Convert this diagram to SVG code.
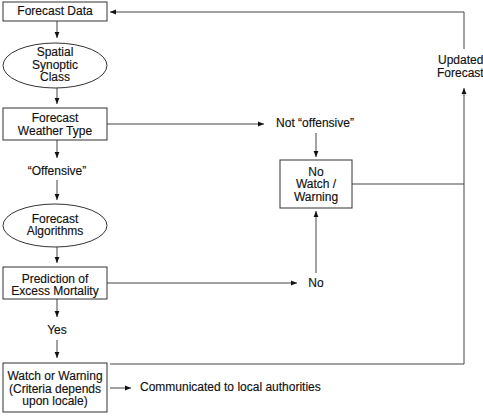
<svg xmlns="http://www.w3.org/2000/svg" width="483" height="416" viewBox="0 0 483 416">
<style>
.box{fill:#fff;stroke:#333;stroke-width:1}
.ln{fill:none;stroke:#444;stroke-width:1}
.arr{fill:none;stroke:#444;stroke-width:1;marker-end:url(#ah)}
text{font-family:"Liberation Sans",Arial,sans-serif;font-size:12px;fill:#111;stroke:#111;stroke-width:0.15;text-anchor:middle;dominant-baseline:middle}
</style>
<defs>
<marker id="ah" viewBox="0 0 10 10" refX="10" refY="5" markerWidth="6" markerHeight="6" markerUnits="userSpaceOnUse" orient="auto">
<path d="M0,1 L10,5 L0,9 z" fill="#111"/>
</marker>
</defs>
<rect width="483" height="416" fill="#fff"/>
<g id="connectors">
<line class="arr" x1="57" y1="21" x2="57" y2="38"/>
<line class="arr" x1="57" y1="88" x2="57" y2="104"/>
<line class="arr" x1="57" y1="140" x2="57" y2="158"/>
<line class="arr" x1="57" y1="180" x2="57" y2="200"/>
<line class="arr" x1="57" y1="247" x2="57" y2="263"/>
<line class="arr" x1="57" y1="299" x2="57" y2="317"/>
<line class="arr" x1="57" y1="340" x2="57" y2="358"/>
<line class="arr" x1="107" y1="124" x2="264" y2="124"/>
<line class="arr" x1="316" y1="133" x2="316" y2="157"/>
<line class="arr" x1="107" y1="283" x2="297" y2="283"/>
<line class="arr" x1="316" y1="273" x2="316" y2="211"/>
<line class="arr" x1="110" y1="388" x2="131" y2="388"/>
<line class="ln" x1="352" y1="184" x2="464" y2="184"/>
<polyline class="arr" points="110,364 464,364 464,88"/>
<polyline class="arr" points="464,49 464,12 110,12"/>
</g>
<g id="forecast-data">
<rect class="box" x="3" y="2" width="104" height="19"/>
<text x="55" y="12">Forecast Data</text>
</g>
<g id="spatial-synoptic-class">
<ellipse class="box" cx="55" cy="65.5" rx="52" ry="22.5"/>
<text x="55" y="53">Spatial</text>
<text x="55" y="65.5">Synoptic</text>
<text x="55" y="78">Class</text>
</g>
<g id="forecast-weather-type">
<rect class="box" x="3" y="108" width="104" height="32"/>
<text x="55" y="119">Forecast</text>
<text x="55" y="131.5">Weather Type</text>
</g>
<g id="offensive">
<text x="57" y="171.5">“Offensive”</text>
</g>
<g id="forecast-algorithms">
<ellipse class="box" cx="55" cy="225.5" rx="52" ry="21.5"/>
<text x="55" y="219.5">Forecast</text>
<text x="55" y="232">Algorithms</text>
</g>
<g id="prediction">
<rect class="box" x="3" y="267" width="104" height="32"/>
<text x="55" y="279.5">Prediction of</text>
<text x="55" y="292">Excess Mortality</text>
</g>
<g id="yes">
<text x="57" y="330.5">Yes</text>
</g>
<g id="watch-warning">
<rect class="box" x="3" y="363" width="104" height="49"/>
<text x="55" y="377">Watch or Warning</text>
<text x="55" y="389.5">(Criteria depends</text>
<text x="55" y="402">upon locale)</text>
</g>
<g id="communicated">
<text x="140" y="388" style="text-anchor:start">Communicated to local authorities</text>
</g>
<g id="not-offensive">
<text x="315" y="124">Not “offensive”</text>
</g>
<g id="no-watch">
<rect class="box" x="280" y="160" width="72" height="48"/>
<text x="316" y="172.5">No</text>
<text x="316" y="185">Watch /</text>
<text x="316" y="197.5">Warning</text>
</g>
<g id="no">
<text x="316" y="284">No</text>
</g>
<g id="updated-forecast">
<text x="438" y="61" style="text-anchor:start">Updated</text>
<text x="437" y="74" style="text-anchor:start">Forecast</text>
</g>
</svg>
